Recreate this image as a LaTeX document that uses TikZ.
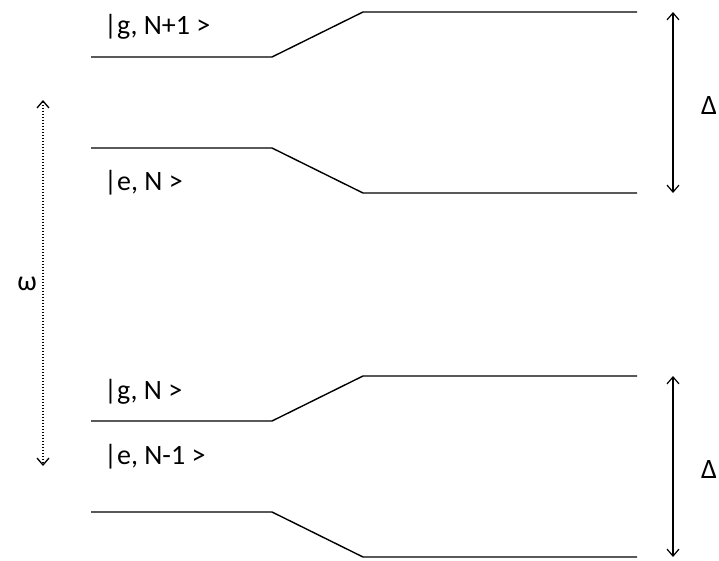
\documentclass[tikz,border=0pt]{standalone}
\usepackage{fontspec}
\setmainfont{Carlito}
\usetikzlibrary{arrows.meta}
\begin{document}
\begin{tikzpicture}[x=1pt,y=-1pt,
  level/.style={line width=1.4pt},
  lbl/.style={anchor=base west,inner sep=0pt,font=\fontsize{28}{32}\selectfont},
  sym/.style={anchor=base,inner sep=0pt,font=\fontsize{28}{32}\selectfont},
  tip/.style={Straight Barb[length=7pt,width=12pt,line width=1.2pt]},
  gap/.style={line width=1.2pt,{Straight Barb[length=7pt,width=12pt]}-{Straight Barb[length=7pt,width=12pt]}},
  omega/.style={line width=1.3pt,dash pattern=on 1.3pt off 1.7pt,{Straight Barb[length=7pt,width=12pt]}-{Straight Barb[length=7pt,width=12pt]}}]
\useasboundingbox (0,0) rectangle (719,561);
% level coordinates
\foreach \n/\ya/\yb in {g1/57/12, e0/148/193, g0/421/376, e1/512/557}{
  \coordinate (\n a) at (91,\ya);
  \coordinate (\n b) at (272,\ya);
  \coordinate (\n c) at (363,\yb);
  \coordinate (\n d) at (637,\yb);
  \draw[level] (\n a) -- (\n b) -- (\n c) -- (\n d);
}
\node[lbl] (l1) at (104,35) {|g, N+1 >};
\node[lbl] (l2) at (104,191) {|e, N >};
\node[lbl] (l3) at (104,399) {|g, N >};
\node[lbl] (l4) at (104,464) {|e, N-1 >};
\coordinate (d1t) at (673,12);
\coordinate (d1b) at (673,193);
\coordinate (d2t) at (673,376);
\coordinate (d2b) at (673,557);
\draw[gap] (d1t) -- (d1b);
\draw[gap] (d2t) -- (d2b);
\node[sym] (D1) at (709,115) {Δ};
\node[sym] (D2) at (709,478) {Δ};
\coordinate (wt) at (43,100);
\coordinate (wb) at (43,466);
\draw[omega] (wt) -- (wb);
\node[sym] (w) at (27,290) {ω};
\end{tikzpicture}
\end{document}
